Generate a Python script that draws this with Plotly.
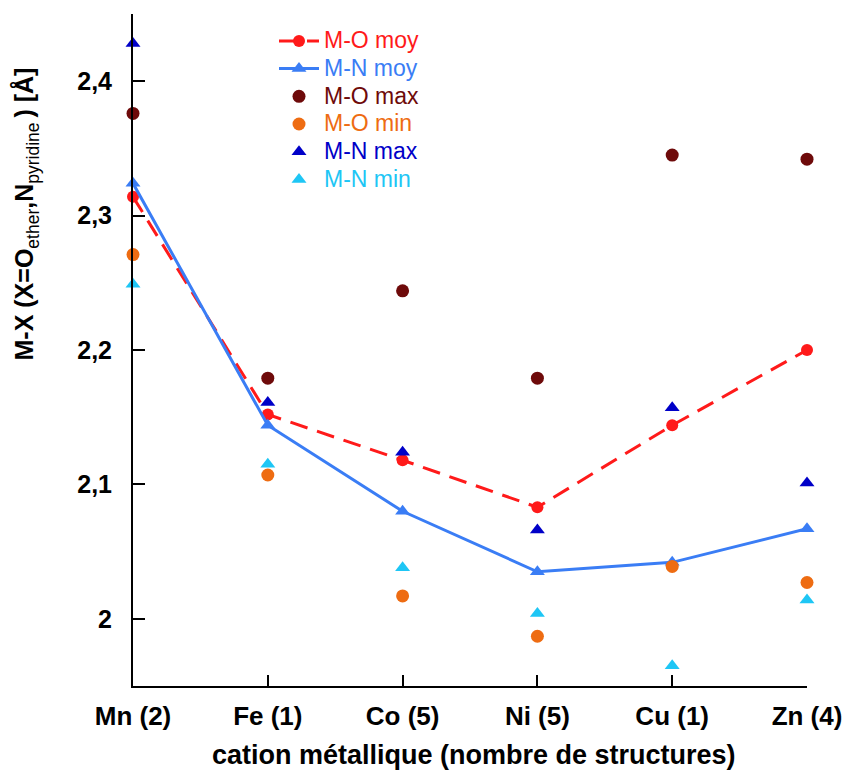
import plotly.graph_objects as go

categories = ["Mn (2)", "Fe (1)", "Co (5)", "Ni (5)", "Cu (1)", "Zn (4)"]
mo_moy = [2.314, 2.152, 2.118, 2.083, 2.144, 2.200]
mn_moy = [2.324, 2.144, 2.080, 2.035, 2.042, 2.067]
mo_max = [2.376, 2.179, 2.244, 2.179, 2.345, 2.342]
mo_min = [2.271, 2.107, 2.017, 1.987, 2.039, 2.027]
mn_max = [2.428, 2.161, 2.124, 2.066, 2.157, 2.101]
mn_min = [2.249, 2.115, 2.038, 2.004, 1.965, 2.014]
y_ticks = [2.0, 2.1, 2.2, 2.3, 2.4]

xs = list(range(len(categories)))
FONT = "Liberation Sans, Arial, sans-serif"

def lab(text, color):
    return f"<span style='color:{color};font-size:23px'>{text}</span>"

fig = go.Figure()
fig.add_trace(go.Scatter(x=xs, y=mo_moy, mode="lines+markers", name=lab("M-O moy", "#ff1a1a"),
                         line=dict(color="#ff1a1a", width=3, dash="18px,10px"),
                         marker=dict(symbol="circle", size=12, color="#ff1a1a"), cliponaxis=False))
fig.add_trace(go.Scatter(x=xs, y=mn_moy, mode="lines+markers", name=lab("M-N moy", "#3a7df5"),
                         line=dict(color="#3a7df5", width=3),
                         marker=dict(symbol="triangle-up", size=13, color="#3a7df5"), cliponaxis=False))
fig.add_trace(go.Scatter(x=xs, y=mo_max, mode="markers", name=lab("M-O max", "#6e0a0a"),
                         marker=dict(symbol="circle", size=13, color="#6e0a0a"), cliponaxis=False))
fig.add_trace(go.Scatter(x=xs, y=mo_min, mode="markers", name=lab("M-O min", "#ee6c12"),
                         marker=dict(symbol="circle", size=13, color="#ee6c12"), cliponaxis=False))
fig.add_trace(go.Scatter(x=xs, y=mn_max, mode="markers", name=lab("M-N max", "#0000c8"),
                         marker=dict(symbol="triangle-up", size=13, color="#0000c8"), cliponaxis=False))
fig.add_trace(go.Scatter(x=xs, y=mn_min, mode="markers", name=lab("M-N min", "#1ec6f5"),
                         marker=dict(symbol="triangle-up", size=13, color="#1ec6f5"), cliponaxis=False))

fig.update_layout(
    width=847, height=771,
    margin=dict(l=133, r=40, t=14, b=85, autoexpand=False),
    paper_bgcolor="white", plot_bgcolor="white",
    separators=",.",
    font=dict(family=FONT, size=19, color="black"),
    showlegend=True,
    legend=dict(x=0.2092, y=0.988, xanchor="left", yanchor="top",
                font=dict(family=FONT, size=19),
                bgcolor="rgba(0,0,0,0)", tracegroupgap=0, itemwidth=40),
    xaxis=dict(range=[0, 5], tickvals=xs, ticktext=categories, automargin=False,
               showline=True, linecolor="black", linewidth=2,
               ticks="inside", ticklen=11, tickwidth=2, tickcolor="black",
               showgrid=False, zeroline=False, ticklabelstandoff=6,
               tickfont=dict(family=FONT, size=26, weight="bold")),
    yaxis=dict(range=[1.95, 2.45], tickvals=y_ticks, automargin=False,
               showline=True, linecolor="black", linewidth=2,
               ticks="inside", ticklen=12, tickwidth=2, tickcolor="black",
               showgrid=False, zeroline=False, ticklabelstandoff=14,
               tickfont=dict(family=FONT, size=25, weight="bold")),
    annotations=[
        dict(text="<b>cation métallique (nombre de structures)</b>",
             xref="paper", yref="paper", x=0.5052, y=-0.1027,
             xanchor="center", yanchor="middle", showarrow=False,
             font=dict(family=FONT, size=27, color="black")),
        dict(text="<b>M-X (X=O</b><sub>ether</sub><b>,N</b><sub>pyridine </sub><b>) [Å]</b>",
             xref="paper", yref="paper", x=-0.1588, y=0.7031,
             xanchor="center", yanchor="middle", showarrow=False, textangle=-90,
             font=dict(family=FONT, size=25, color="black")),
    ],
)

fig.write_html("out.html", post_script="document.body.style.margin='0px';",
               config={"displayModeBar": False})
